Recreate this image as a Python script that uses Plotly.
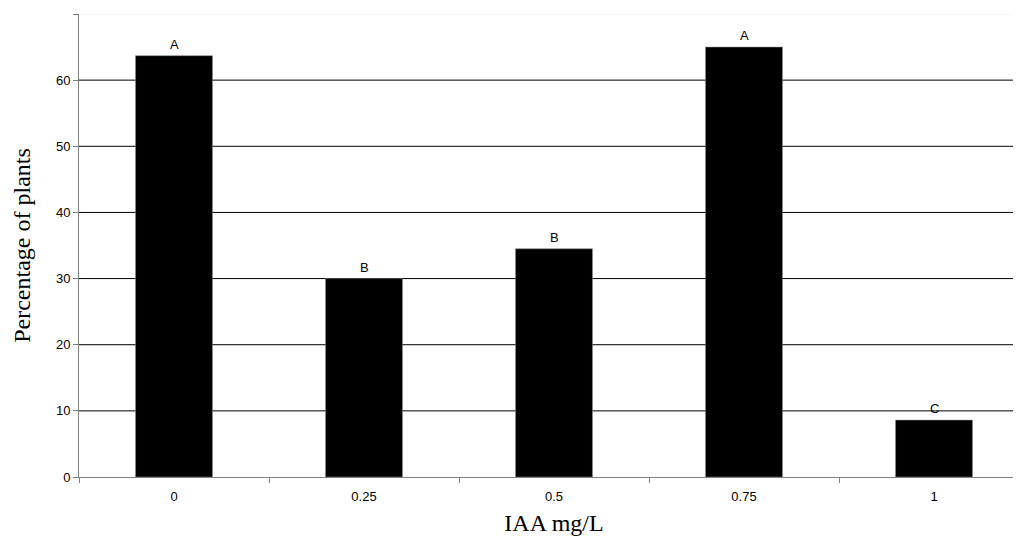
import plotly.graph_objects as go

categories = ["0", "0.25", "0.5", "0.75", "1"]
values = [63.7, 30.0, 34.5, 65.0, 8.6]
letters = ["A", "B", "B", "A", "C"]
y_ticks = [0, 10, 20, 30, 40, 50, 60, 70]
grid_values = [10, 20, 30, 40, 50, 60]

fig = go.Figure()
fig.add_trace(go.Bar(
    x=categories, y=values, width=0.405,
    marker=dict(color="black", line=dict(color="#888888", width=0.5)),
    hoverinfo="skip",
))

for i, (v, t) in enumerate(zip(values, letters)):
    fig.add_annotation(x=i, y=v, text=t, showarrow=False, yanchor="bottom", yshift=2,
                       font=dict(family="Liberation Sans, Arial", size=13, color="black"))

for g in grid_values:
    fig.add_shape(type="line", xref="paper", x0=0, x1=1, yref="y", y0=g, y1=g,
                  line=dict(color="black", width=1), layer="below")
fig.add_shape(type="line", xref="paper", x0=0, x1=1, yref="y", y0=70, y1=70,
              line=dict(color="#f2f2f2", width=1), layer="below")

fig.update_layout(
    width=1021, height=541,
    margin=dict(l=71, r=0, t=6, b=72),
    plot_bgcolor="white", paper_bgcolor="white",
    showlegend=False,
    font=dict(family="Liberation Sans, Arial", size=13, color="black"),
    xaxis=dict(
        type="category", range=[-0.5, 4.5], automargin=False,
        tickson="boundaries", ticks="outside", ticklen=5, tickcolor="#808080",
        ticklabelstandoff=7,
        showline=True, linecolor="#808080", linewidth=1,
        showgrid=False, zeroline=False,
        tickfont=dict(family="Liberation Sans, Arial", size=13),
        title=dict(text="IAA mg/L", font=dict(family="Liberation Serif, Times New Roman", size=24), standoff=11),
    ),
    yaxis=dict(
        range=[0, 70], tickvals=y_ticks, automargin=False,
        ticks="outside", ticklen=5, tickcolor="#808080",
        showline=True, linecolor="#808080", linewidth=1,
        showgrid=False, zeroline=False,
        tickfont=dict(family="Liberation Sans, Arial", size=13),
        title=dict(text="Percentage of plants", font=dict(family="Liberation Serif, Times New Roman", size=24), standoff=18),
    ),
)

fig.write_html("out.html")
